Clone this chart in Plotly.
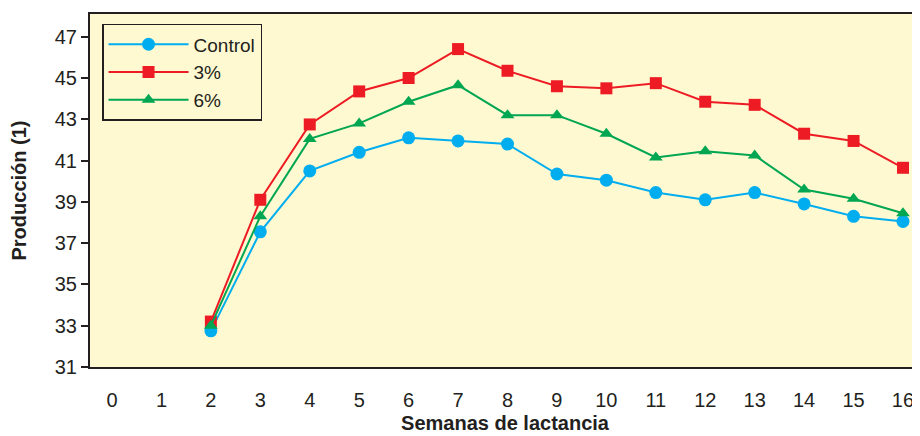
import plotly.graph_objects as go

weeks = [2, 3, 4, 5, 6, 7, 8, 9, 10, 11, 12, 13, 14, 15, 16]
control = [32.75, 37.55, 40.5, 41.4, 42.1, 41.95, 41.8, 40.35, 40.05, 39.45, 39.1, 39.45, 38.9, 38.3, 38.05]
pct3 = [33.2, 39.1, 42.75, 44.35, 45.0, 46.4, 45.35, 44.6, 44.5, 44.75, 43.85, 43.7, 42.3, 41.95, 40.65]
pct6 = [33.0, 38.3, 42.05, 42.8, 43.85, 44.65, 43.2, 43.2, 42.3, 41.15, 41.45, 41.25, 39.6, 39.15, 38.45]
xticks = list(range(0, 17))
yticks = [31, 33, 35, 37, 39, 41, 43, 45, 47]

series = [
    ("Control", control, "#00AEEF", "circle", 13),
    ("3%", pct3, "#ED1C24", "square", 12),
    ("6%", pct6, "#00A651", "triangle-up", 12),
]

fig = go.Figure()
for name, vals, col, sym, sz in series:
    fig.add_trace(go.Scatter(
        x=weeks, y=vals, name=name, mode="lines+markers",
        line=dict(color=col, width=2),
        marker=dict(symbol=sym, size=sz, color=col),
    ))

font_family = "Liberation Sans, Arial, sans-serif"
fig.update_layout(
    width=912, height=428,
    margin=dict(l=82, r=0, t=6, b=69),
    paper_bgcolor="white",
    plot_bgcolor="#FFF9D1",
    font=dict(family=font_family, size=20, color="#231F20"),
    showlegend=True,
    legend=dict(
        x=0.0145, y=0.972, xanchor="left", yanchor="top",
        bgcolor="#FFF9D1", bordercolor="#231F20", borderwidth=1.5,
        font=dict(size=19, color="#231F20"),
        itemwidth=80, tracegroupgap=0,
    ),
)
fig.update_xaxes(
    range=[-0.445, 16.344], tickmode="array", tickvals=xticks,
    ticktext=[str(v) for v in xticks],
    showgrid=False, zeroline=False, automargin=False,
    showline=True, linecolor="#231F20", linewidth=2, mirror=True,
    ticks="", ticklabelstandoff=14,
    tickfont=dict(size=20, color="#231F20"),
    title=dict(text="<b>Semanas de lactancia</b>", font=dict(size=20, color="#231F20"), standoff=6),
)
fig.update_yaxes(
    range=[31, 48.1], tickmode="array", tickvals=yticks,
    ticktext=[str(v) for v in yticks],
    showgrid=False, zeroline=False, automargin=False,
    showline=True, linecolor="#231F20", linewidth=2, mirror=True,
    ticks="outside", ticklen=7, tickwidth=2, tickcolor="#231F20",
    tickfont=dict(size=20, color="#231F20"),
    title=dict(text="<b>Producción (1)</b>", font=dict(size=20, color="#231F20"), standoff=24),
)

fig.write_html("out.html")
